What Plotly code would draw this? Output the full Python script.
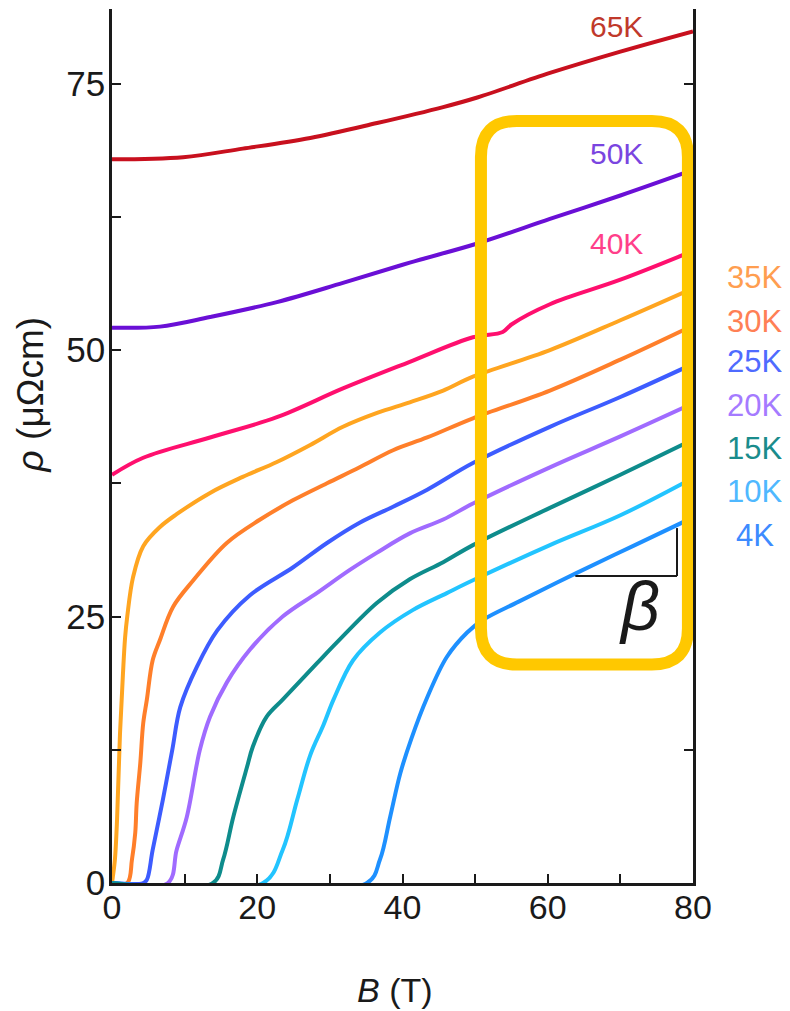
import plotly.graph_objects as go

# ---------------- data ----------------
temperatures = ["65K", "50K", "40K", "35K", "30K", "25K", "20K", "15K", "10K", "4K"]

b_65K = [0, 9.8, 18.0, 27.3, 36.5, 45.6, 50.3, 60.3, 70.0, 80.0]
rho_65K = [67.9, 68.1, 68.9, 69.9, 71.3, 72.8, 73.7, 76.0, 78.0, 79.9]

b_50K = [0, 6.6, 13.5, 22.7, 31.8, 41.0, 50.3, 60.3, 70.0, 80.0]
rho_50K = [52.1, 52.2, 53.1, 54.5, 56.3, 58.2, 60.0, 62.3, 64.5, 66.9]

b_40K = [0, 4.3, 13.5, 22.7, 31.8, 41.0, 49.7, 53.8, 55.0, 60.3, 70.0, 80.0]
rho_40K = [38.3, 39.9, 41.8, 43.7, 46.4, 48.9, 51.2, 51.7, 52.4, 54.3, 56.6, 59.3]

b_35K = [0.0, 0.1, 0.4, 0.7, 1.1, 1.5, 1.8, 2.1, 2.9, 4.3, 6.6, 8.9, 13.5, 18.0,
         22.7, 27.3, 31.8, 36.5, 41.0, 45.6, 49.7, 60.3, 70.0, 80.0]
rho_35K = [0.0, 0.5, 2.2, 6.0, 14.0, 19.5, 23.0, 25.0, 28.7, 31.6, 33.4, 34.6, 36.6, 38.1,
           39.5, 41.1, 42.8, 44.1, 45.1, 46.2, 47.5, 50.0, 52.8, 55.8]

b_30K = [0, 2.1, 2.75, 3.2, 3.4, 3.9, 4.3, 4.8, 5.6, 6.6, 8.4, 11.2, 15.8, 20.4,
         24.9, 29.6, 34.1, 38.7, 43.4, 49.7, 60.3, 70.0, 80.0]
rho_30K = [0, 0, 2.2, 4.7, 7.5, 11.3, 15.0, 17.2, 20.9, 22.8, 25.9, 28.4, 31.9, 34.1,
           35.9, 37.5, 39.0, 40.6, 41.8, 43.6, 46.2, 49.1, 52.3]

b_25K = [0, 4.3, 4.8, 5.6, 7.0, 8.3, 9.4, 11.7, 14.5, 19.0, 24.9, 29.6, 34.1, 38.7,
         43.4, 49.7, 60.3, 70.0, 80.0]
rho_25K = [0, 0, 0.3, 3.1, 7.8, 12.5, 16.5, 20.3, 23.7, 27.0, 29.6, 31.9, 33.8, 35.3,
           36.9, 39.4, 42.8, 45.6, 48.7]

b_20K = [0, 7.7, 8.9, 10.3, 12.1, 13.5, 15.8, 19.0, 23.5, 28.2, 32.8, 36.5, 41.0,
         45.6, 49.7, 60.3, 70.0, 80.0]
rho_20K = [0, 0, 3.1, 6.2, 12.5, 15.6, 18.8, 21.9, 25.0, 27.2, 29.4, 31.0, 32.8,
           34.1, 35.6, 39.0, 41.9, 45.0]

b_15K = [0, 13.9, 15.3, 16.7, 18.6, 19.4, 21.3, 23.5, 28.2, 31.0, 36.5, 41.0, 45.6,
         49.7, 60.3, 70.0, 80.0]
rho_15K = [0, 0, 2.2, 6.2, 10.9, 12.8, 15.6, 17.2, 20.6, 22.6, 26.3, 28.5, 30.1,
           31.7, 35.2, 38.3, 41.6]

b_10K = [0, 20.8, 23.5, 25.5, 27.3, 29.1, 30.5, 33.2, 36.9, 41.4, 46.1, 49.7, 60.3,
         70.0, 80.0]
rho_10K = [0, 0, 3.1, 7.8, 12.0, 14.8, 17.2, 20.9, 23.5, 25.6, 27.2, 28.4, 31.7,
           34.5, 38.0]

b_4K = [0, 35.1, 36.9, 38.3, 39.7, 41.2, 43.4, 46.1, 48.9, 51.1, 56.0, 64.0, 72.0, 80.0]
rho_4K = [0, 0, 2.2, 6.2, 10.3, 13.5, 17.4, 21.2, 23.5, 24.7, 26.4, 29.1, 31.7, 34.3]

x_tick_vals = [0, 20, 40, 60, 80]
x_minor_vals = [10, 30, 50, 70]
y_tick_vals = [0, 25, 50, 75]
y_minor_vals = [12.5, 37.5, 62.5]

# label placement (B, rho) for labels inside the plot; rho for outside labels
inside_labels = {"65K": (69.5, 80.4), "50K": (69.5, 68.4), "40K": (69.5, 60.0)}
outside_label_rho = {"35K": 56.8, "30K": 52.7, "25K": 48.9, "20K": 44.8,
                     "15K": 40.8, "10K": 36.7, "4K": 32.6}

# ---------------- styles ----------------
line_colors = {"65K": "#C8101E", "50K": "#6A0FD6", "40K": "#FF0F6E", "35K": "#FFA520",
               "30K": "#FF7F2A", "25K": "#3D5CFF", "20K": "#A06BFF", "15K": "#0E8C8C",
               "10K": "#22C4FF", "4K": "#1E90FF"}
label_colors = {"65K": "#C0392B", "50K": "#7A45E0", "40K": "#FF3F8A", "35K": "#FF9E50",
                "30K": "#FF8055", "25K": "#4F6BFF", "20K": "#A57BFF", "15K": "#1A8C8C",
                "10K": "#4FB8FF", "4K": "#3D8BFF"}

series = {"65K": (b_65K, rho_65K), "50K": (b_50K, rho_50K), "40K": (b_40K, rho_40K),
          "35K": (b_35K, rho_35K), "30K": (b_30K, rho_30K), "25K": (b_25K, rho_25K),
          "20K": (b_20K, rho_20K), "15K": (b_15K, rho_15K), "10K": (b_10K, rho_10K),
          "4K": (b_4K, rho_4K)}

draw_order = ["65K", "50K", "40K", "35K", "30K", "25K", "20K", "10K", "4K", "15K"]

fig = go.Figure()
for t in draw_order:
    bx, ry = series[t]
    fig.add_trace(go.Scatter(x=bx, y=ry, mode="lines", name=t,
                             line=dict(color=line_colors[t], width=4,
                                       shape="spline", smoothing=1.0)))

FONT = "Liberation Sans, Arial, Helvetica, sans-serif"
AX = "#1a1a1a"

# the page body has an 8px default margin: figure is sized/offset to compensate
fig.update_layout(
    width=782, height=1003,
    margin=dict(l=104, r=97, t=1, b=128),
    plot_bgcolor="white", paper_bgcolor="white",
    showlegend=False,
    font=dict(family=FONT, color=AX),
)
fig.update_xaxes(range=[0, 80], showline=True, linewidth=2.5, linecolor=AX,
                 ticks="inside", ticklen=9, tickwidth=2, tickcolor=AX,
                 tickvals=x_tick_vals, showgrid=False, zeroline=False,
                 tickfont=dict(size=34, family=FONT, color=AX),
                 ticklabelstandoff=-8,
                 minor=dict(tickvals=x_minor_vals, ticks="inside", ticklen=9,
                            tickwidth=2, tickcolor=AX, showgrid=False))
fig.update_yaxes(range=[0, 82], showline=True, linewidth=2.5, linecolor=AX,
                 mirror="ticks",
                 ticks="inside", ticklen=9, tickwidth=2, tickcolor=AX,
                 tickvals=y_tick_vals, showgrid=False, zeroline=False,
                 tickfont=dict(size=35, family=FONT, color=AX),
                 ticklabelstandoff=-3,
                 minor=dict(tickvals=y_minor_vals, ticks="inside", ticklen=9,
                            tickwidth=2, tickcolor=AX, showgrid=False))

ann = []
# axis titles
ann.append(dict(text="<i>ρ</i> (μΩcm)", xref="paper", yref="paper", x=-0.141, y=0.558,
                textangle=-90, showarrow=False, xanchor="center", yanchor="middle",
                font=dict(size=37, family=FONT, color=AX)))
ann.append(dict(text="<i>B</i> (T)", xref="paper", yref="paper", x=0.487, y=-0.122,
                showarrow=False, xanchor="center", yanchor="middle",
                font=dict(size=34, family=FONT, color=AX)))
# temperature labels
for t, (bx, ry) in inside_labels.items():
    ann.append(dict(text=t, x=bx, y=ry, xref="x", yref="y", showarrow=False,
                    xanchor="center", yanchor="middle",
                    font=dict(size=30, family=FONT, color=label_colors[t])))
for t, ry in outside_label_rho.items():
    ann.append(dict(text=t, x=1.1067, y=ry, xref="paper", yref="y", showarrow=False,
                    xanchor="center", yanchor="middle",
                    font=dict(size=31, family=FONT, color=label_colors[t])))
# beta
ann.append(dict(text="<i>β</i>", x=72.7, y=26.0, xref="x", yref="y", showarrow=False,
                xanchor="center", yanchor="middle",
                font=dict(size=68, family=FONT, color=AX)))
fig.update_layout(annotations=ann)

# slope triangle
fig.add_shape(type="line", x0=63.8, y0=28.8, x1=77.8, y1=28.8, xref="x", yref="y",
              line=dict(color=AX, width=2))
fig.add_shape(type="line", x0=77.8, y0=28.8, x1=77.8, y1=33.3, xref="x", yref="y",
              line=dict(color=AX, width=2))

# yellow highlight box (rounded rectangle)
L, R, T, Bt = 50.8, 79.3, 71.5, 20.5
rx, ry_ = 4.96, 3.38
path = (f"M {L+rx},{T} L {R-rx},{T} Q {R},{T} {R},{T-ry_} "
        f"L {R},{Bt+ry_} Q {R},{Bt} {R-rx},{Bt} "
        f"L {L+rx},{Bt} Q {L},{Bt} {L},{Bt+ry_} "
        f"L {L},{T-ry_} Q {L},{T} {L+rx},{T} Z")
fig.add_shape(type="path", path=path, xref="x", yref="y",
              line=dict(color="#FFC800", width=12), layer="above")

fig.write_html("out.html")
